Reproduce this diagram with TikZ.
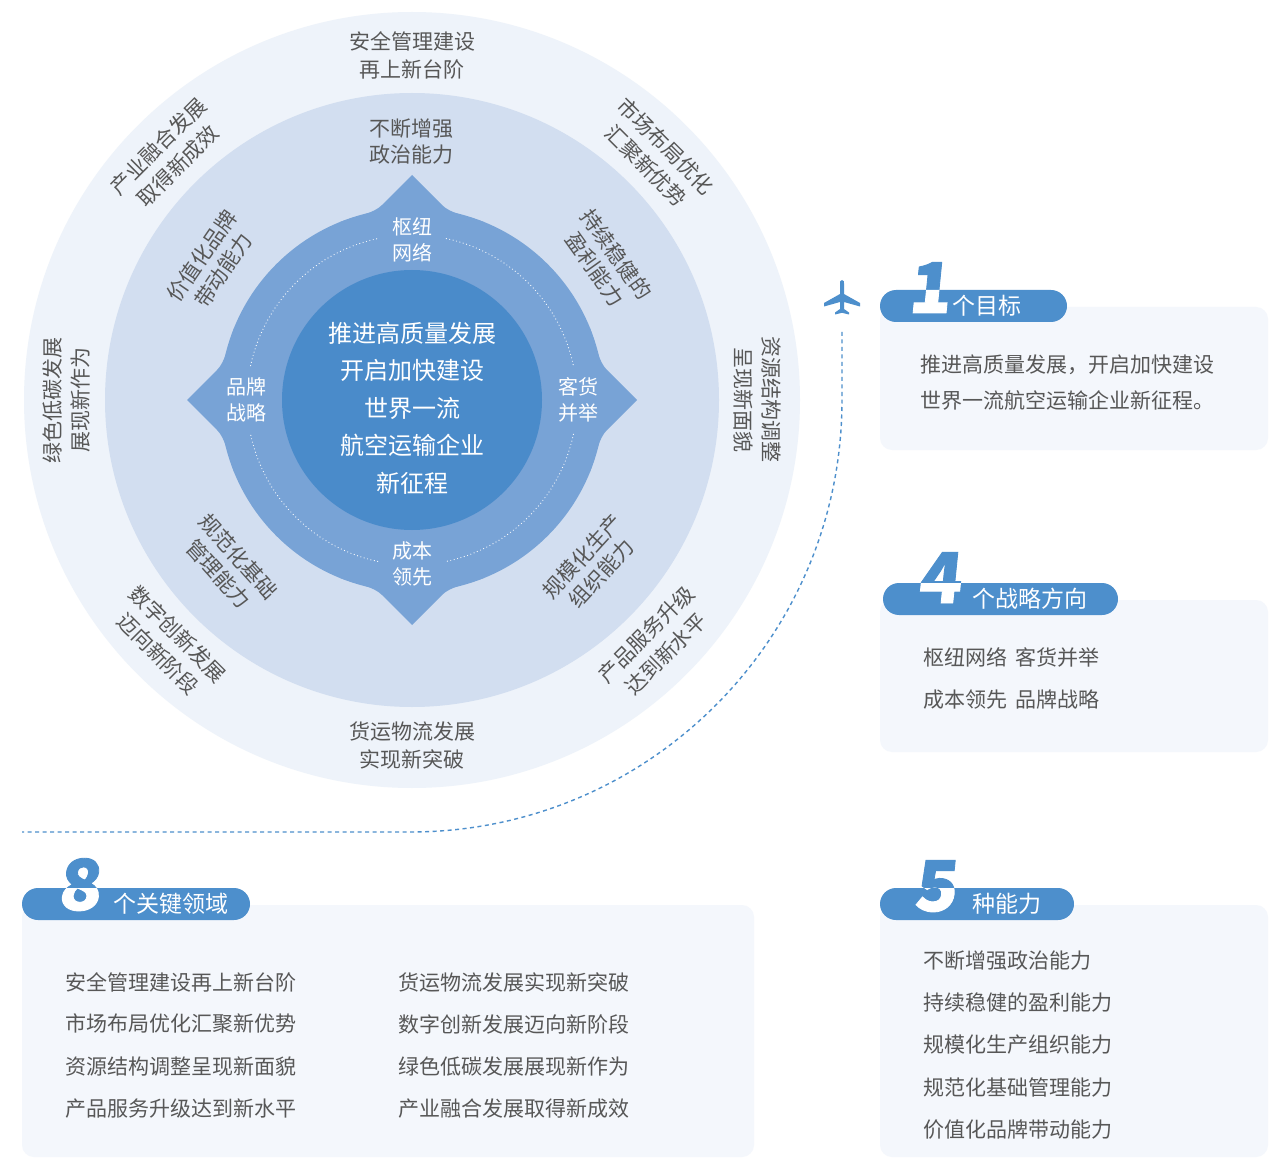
\documentclass[tikz,border=0pt]{standalone}
\usepackage{fontspec}
\setmainfont{Noto Sans CJK SC}
\newfontfamily\numfont[FakeSlant=0.1, BoldFeatures={FakeBold=1.2}]{Noto Sans CJK SC}
\definecolor{ringA}{HTML}{EEF3FA}
\definecolor{ringB}{HTML}{D2DEF0}
\definecolor{ringC}{HTML}{78A3D6}
\definecolor{ringD}{HTML}{4A8BCA}
\definecolor{badge}{HTML}{4D8FCC}
\definecolor{cardbg}{HTML}{F4F7FC}
\definecolor{txtgrey}{HTML}{575757}
\begin{document}
\begin{tikzpicture}[x=1pt,y=-1pt,
  outerlbl/.style={text=txtgrey, font=\fontsize{21}{28}\selectfont, align=center, inner sep=0pt},
  midlbl/.style={text=txtgrey, font=\fontsize{21}{26}\selectfont, align=center, inner sep=0pt},
  innerlbl/.style={text=white, font=\fontsize{20}{26}\selectfont, align=center, inner sep=0pt},
  centerlbl/.style={text=white, font=\fontsize{24}{37.5}\selectfont, align=center, inner sep=0pt},
  card/.style={fill=cardbg, rounded corners=12pt, inner sep=0pt},
  pill/.style={fill=badge, rounded corners=16pt, inner sep=0pt, minimum height=32pt},
  pilltext/.style={text=white, font=\fontsize{23}{26}\selectfont, anchor=west, inner sep=0pt},
  bignum/.style={font=\numfont\bfseries\fontsize{70}{70}\selectfont, anchor=base, inner sep=0pt},
  cardtext/.style={text=txtgrey, font=\fontsize{21}{26}\selectfont, anchor=west, inner sep=0pt},
  dashline/.style={draw=badge, line width=1.4pt, dash pattern=on 4pt off 3.5pt},
  dotring/.style={draw=white, line width=1.2pt, dash pattern=on 0pt off 3.5pt, line cap=round}
]
\useasboundingbox (0,0) rectangle (1283,1158);
\fill[white] (0,0) rectangle (1283,1158);

% ---------- circles ----------
\coordinate (O) at (412,400);
\fill[ringA] (O) circle (388);
\fill[ringB] (O) circle (307);
\fill[ringC] (O) circle (192);
\begin{scope}[shift={(412,400)}]
\foreach \r in {0,90,180,270}{
  \fill[ringC, rotate=\r] (0,-225) -- (30,-195) .. controls (38,-187) and (52,-184.5) .. (72,-178) -- (0,0) -- (-72,-178) .. controls (-52,-184.5) and (-38,-187) .. (-30,-195) -- cycle;
}
\end{scope}
\fill[ringD] (O) circle (130);
\foreach \a in {0,90,180,270}{
  \draw[dotring] ([shift={(\a+12:165)}]O) arc[start angle=\a+12, end angle=\a+78, radius=165];
}

% ---------- outer ring labels ----------
\node[outerlbl] (o1) at ([shift={(-90:345)}]O) {安全管理建设\\再上新台阶};
\node[outerlbl, rotate=-45] (o2) at ([shift={(-45:345)}]O) {市场布局优化\\汇聚新优势};
\node[outerlbl, rotate=-90] (o3) at ([shift={(0:345)}]O) {资源结构调整\\呈现新面貌};
\node[outerlbl, rotate=45] (o4) at ([shift={(45:345)}]O) {产品服务升级\\达到新水平};
\node[outerlbl] (o5) at ([shift={(90:345)}]O) {货运物流发展\\实现新突破};
\node[outerlbl, rotate=-45] (o6) at ([shift={(135:345)}]O) {数字创新发展\\迈向新阶段};
\node[outerlbl, rotate=90] (o7) at ([shift={(180:345)}]O) {绿色低碳发展\\展现新作为};
\node[outerlbl, rotate=45] (o8) at ([shift={(225:345)}]O) {产业融合发展\\取得新成效};

% ---------- middle ring labels ----------
\node[midlbl] (m1) at (411,142) {不断增强\\政治能力};
\node[midlbl, rotate=-54.5] (m2) at ([shift={(-35.5:238)}]O) {持续稳健的\\盈利能力};
\node[midlbl, rotate=47.5] (m3) at ([shift={(42.5:244)}]O) {规模化生产\\组织能力};
\node[midlbl, rotate=-48] (m4) at ([shift={(138:247)}]O) {规范化基础\\管理能力};
\node[midlbl, rotate=55.5] (m5) at ([shift={(214.5:242)}]O) {价值化品牌\\带动能力};

% ---------- inner labels ----------
\node[innerlbl] (i1) at (412,240) {枢纽\\网络};
\node[innerlbl] (i2) at (578,400) {客货\\并举};
\node[innerlbl] (i3) at (412,564) {成本\\领先};
\node[innerlbl] (i4) at (246,400) {品牌\\战略};
\node[centerlbl] (core) at (412,408) {推进高质量发展\\开启加快建设\\世界一流\\航空运输企业\\新征程};

% ---------- plane and dashed route ----------
\coordinate (plane) at (842,298);
\fill[badge, shift={(842,298)}] (0,-18) .. controls (2,-18) and (2,-16) .. (2,-14.5) -- (2,-4) -- (18,5) -- (18,8.5) -- (2,4) -- (2,11) -- (7,14.5) -- (7,16.5) -- (0,14.8) -- (-7,16.5) -- (-7,14.5) -- (-2,11) -- (-2,4) -- (-18,8.5) -- (-18,5) -- (-2,-4) -- (-2,-14.5) .. controls (-2,-16) and (-2,-18) .. (0,-18) -- cycle;
\coordinate (routeStart) at (842,332);
\coordinate (routeEnd) at (22,832);
\draw[dashline] (routeStart) -- (842,400) arc[start angle=0, end angle=90, radius=432] -- (routeEnd);

% ---------- cards ----------
\node[card, minimum width=388pt, minimum height=143pt] (card1) at (1074,378.5) {};
\node[card, minimum width=388pt, minimum height=152pt] (card2) at (1074,676) {};
\node[card, minimum width=388pt, minimum height=252pt] (card3) at (1074,1031) {};
\node[card, minimum width=732pt, minimum height=252pt] (card4) at (388,1031) {};

% badges
\node[pill, minimum width=187pt] (pill1) at (973.5,306) {};
\node[pill, minimum width=235pt] (pill2) at (1000.5,599) {};
\node[pill, minimum width=194pt] (pill3) at (977,904) {};
\node[pill, minimum width=228pt] (pill4) at (136,904) {};

\node[bignum, text=badge] (num1) at (929,313) {1};
\node[bignum, text=badge] (num2) at (939,603) {4};
\node[bignum, text=badge] (num3) at (935,911) {5};
\node[bignum, text=badge] (num4) at (79,910) {8};
\begin{scope}
  \clip[rounded corners=16pt] (880,290) rectangle (1067,322);
  \node[bignum, text=white] at (929,313) {1};
\end{scope}
\begin{scope}
  \clip[rounded corners=16pt] (883,583) rectangle (1118,615);
  \node[bignum, text=white] at (939,603) {4};
\end{scope}
\begin{scope}
  \clip[rounded corners=16pt] (880,888) rectangle (1074,920);
  \node[bignum, text=white] at (935,911) {5};
\end{scope}
\begin{scope}
  \clip[rounded corners=16pt] (22,888) rectangle (250,920);
  \node[bignum, text=white] at (79,910) {8};
\end{scope}

\node[pilltext] (t1) at (952,306) {个目标};
\node[pilltext] (t2) at (972,599) {个战略方向};
\node[pilltext] (t3) at (972,904) {种能力};
\node[pilltext] (t4) at (113,904) {个关键领域};

% card texts
\node[cardtext] (c1a) at (920,365) {推进高质量发展，开启加快建设};
\node[cardtext] (c1b) at (920,400) {世界一流航空运输企业新征程。};

\node[cardtext] (c2a) at (923,657) {枢纽网络\hspace{8pt}客货并举};
\node[cardtext] (c2b) at (923,700) {成本领先\hspace{8pt}品牌战略};

\node[cardtext] (c3a) at (923,961) {不断增强政治能力};
\node[cardtext] (c3b) at (923,1003) {持续稳健的盈利能力};
\node[cardtext] (c3c) at (923,1045) {规模化生产组织能力};
\node[cardtext] (c3d) at (923,1088) {规范化基础管理能力};
\node[cardtext] (c3e) at (923,1130) {价值化品牌带动能力};

\node[cardtext] (c4a) at (65,982) {安全管理建设再上新台阶};
\node[cardtext] (c4b) at (65,1024) {市场布局优化汇聚新优势};
\node[cardtext] (c4c) at (65,1067) {资源结构调整呈现新面貌};
\node[cardtext] (c4d) at (65,1109) {产品服务升级达到新水平};
\node[cardtext] (c4e) at (398,982) {货运物流发展实现新突破};
\node[cardtext] (c4f) at (398,1024) {数字创新发展迈向新阶段};
\node[cardtext] (c4g) at (398,1067) {绿色低碳发展展现新作为};
\node[cardtext] (c4h) at (398,1109) {产业融合发展取得新成效};
\end{tikzpicture}
\end{document}
